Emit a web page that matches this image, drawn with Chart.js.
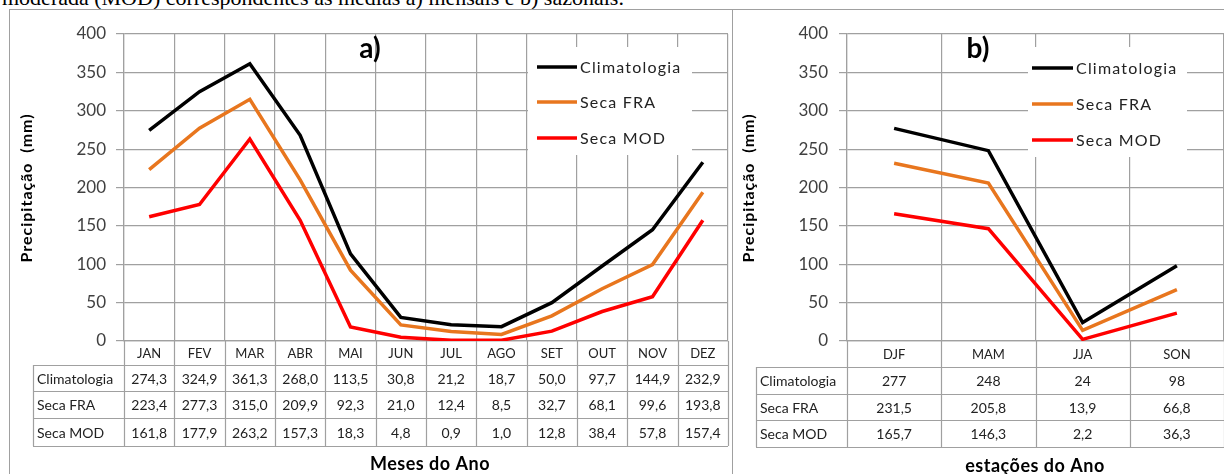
<!DOCTYPE html>
<html>
<head>
<meta charset="utf-8">
<script src="https://cdn.jsdelivr.net/npm/chart.js@4.4.1/dist/chart.umd.min.js"></script>
<style>
  body { margin: 0; background: #fff; width: 1224px; height: 474px; overflow: hidden; position: relative; }
  .legenda-topo { position: absolute; left: 2px; top: -13px; font-family: 'Liberation Serif', serif; font-size: 22px; line-height: 22px; white-space: nowrap; color: #000; }
  .painel { position: absolute; }
  #pa { left: 0; top: 0; width: 733px; height: 474px; }
  #pb { left: 733px; top: 0; width: 491px; height: 474px; }
  .borda-a { position: absolute; left: 9px; top: 9px; width: 722px; height: 480px; border: 1px solid #a0a0a0; }
  .borda-b { position: absolute; left: 732px; top: 9px; width: 500px; height: 480px; border-top: 1px solid #a0a0a0; border-left: 1px solid #a0a0a0; }
</style>
</head>
<body>
<div class="legenda-topo">moderada (MOD) correspondentes às médias a) mensais e b) sazonais.</div>
<div class="borda-a"></div>
<div class="borda-b"></div>
<div class="painel" id="pa"><canvas id="grafA"></canvas></div>
<div class="painel" id="pb"><canvas id="grafB"></canvas></div>
<script>
// dados mensais
const meses = ['JAN', 'FEV', 'MAR', 'ABR', 'MAI', 'JUN', 'JUL', 'AGO', 'SET', 'OUT', 'NOV', 'DEZ'];
const climMensal = [274.3, 324.9, 361.3, 268.0, 113.5, 30.8, 21.2, 18.7, 50.0, 97.7, 144.9, 232.9];
const fraMensal = [223.4, 277.3, 315.0, 209.9, 92.3, 21.0, 12.4, 8.5, 32.7, 68.1, 99.6, 193.8];
const modMensal = [161.8, 177.9, 263.2, 157.3, 18.3, 4.8, 0.9, 1.0, 12.8, 38.4, 57.8, 157.4];

// dados sazonais
const estacoes = ['DJF', 'MAM', 'JJA', 'SON'];
const climSazonal = [277, 248, 24, 98];
const fraSazonal = [231.5, 205.8, 13.9, 66.8];
const modSazonal = [165.7, 146.3, 2.2, 36.3];

const series = ['Climatologia', 'Seca FRA', 'Seca MOD'];
const cores = ['#000000', '#E8761E', '#FF0000'];

const CINZA = '#a0a0a0';

function fmt(v, casas) {
    return v.toFixed(casas).replace('.', ',');
}

// desenha tabela de dados, legenda e textos de cada painel
const extras = {
    id: 'extras',
    beforeDatasetsDraw(chart, args, o) {
        const ctx = chart.ctx;
        ctx.save();
        // caixa da legenda
        ctx.fillStyle = '#fff';
        ctx.fillRect(o.leg.x0, o.leg.y0, o.leg.x1 - o.leg.x0, o.leg.y1 - o.leg.y0);
        ctx.restore();
    },
    afterDraw(chart, args, o) {
        const ctx = chart.ctx;
        const a = chart.chartArea;
        const n = chart.data.labels.length;
        const w = (a.right - a.left) / n;
        const L = o.linhas;
        ctx.save();
        ctx.strokeStyle = CINZA;
        ctx.lineWidth = 1.2;
        ctx.beginPath();
        for (let i = 0; i <= n; i++) {
            const X = Math.round(a.left + i * w) + 0.5;
            ctx.moveTo(X, a.bottom);
            ctx.lineTo(X, L[3]);
        }
        ctx.moveTo(o.esq + 0.5, L[0]);
        ctx.lineTo(o.esq + 0.5, L[3]);
        for (let j = 0; j < 4; j++) {
            ctx.moveTo(o.esq, L[j] + 0.5);
            ctx.lineTo(a.right, L[j] + 0.5);
        }
        ctx.stroke();

        // categorias
        ctx.fillStyle = '#222';
        ctx.textBaseline = 'middle';
        ctx.textAlign = 'center';
        ctx.font = '13px Lato';
        chart.data.labels.forEach(function(lab, i) {
            ctx.fillText(lab, a.left + (i + 0.5) * w, (a.bottom + L[0]) / 2 + 1);
        });
        // linhas da tabela
        chart.data.datasets.forEach(function(ds, r) {
            const yc = (L[r] + L[r + 1]) / 2 + 1;
            ctx.textAlign = 'left';
            ctx.font = '14px Lato';
            ctx.fillText(ds.label, o.esq + 4, yc);
            ctx.textAlign = 'center';
            ds.data.forEach(function(v, i) {
                ctx.fillText(fmt(v, o.casas[r]), a.left + (i + 0.5) * w, yc);
            });
        });

        // legenda
        ctx.letterSpacing = '1.2px';
        ctx.font = '16px Lato';
        ctx.textAlign = 'left';
        chart.data.datasets.forEach(function(ds, r) {
            const y = o.leg.ys[r];
            ctx.strokeStyle = ds.borderColor;
            ctx.lineWidth = 3.5;
            ctx.beginPath();
            ctx.moveTo(o.leg.lx0, y);
            ctx.lineTo(o.leg.lx1, y);
            ctx.stroke();
            ctx.fillStyle = '#222';
            ctx.fillText(ds.label, o.leg.lx1 + 3, y + 1);
        });

        // titulo do painel
        ctx.letterSpacing = '0px';
        ctx.fillStyle = '#000';
        ctx.font = 'bold 28px Lato';
        ctx.textAlign = 'center';
        ctx.textBaseline = 'alphabetic';
        ctx.fillText(o.titulo, o.titX, 58);

        // titulo do eixo x
        ctx.font = 'bold 18px Lato';
        ctx.letterSpacing = '0.5px';
        ctx.fillText(o.eixoX, o.eixoXx, o.eixoXy);

        // titulo do eixo y
        ctx.translate(o.eixoYx, 188);
        ctx.rotate(-Math.PI / 2);
        ctx.font = 'bold 16px Lato';
        ctx.letterSpacing = '1px';
        ctx.textBaseline = 'middle';
        ctx.fillText('Precipitação  (mm)', 0, 0);
        ctx.restore();
    }
};

function montar(id, labels, dados, largY, padTick, padDir, opts) {
    const datasets = dados.map(function(d, i) {
        return {
            label: series[i],
            data: d,
            borderColor: cores[i],
            backgroundColor: cores[i],
            borderWidth: 3.5,
            pointRadius: 0,
            tension: 0,
            fill: false
        };
    });
    return new Chart(document.getElementById(id), {
        type: 'line',
        data: { labels: labels, datasets: datasets },
        plugins: [extras],
        options: {
            responsive: true,
            maintainAspectRatio: false,
            animation: false,
            devicePixelRatio: 1,
            layout: { padding: { top: 34, right: padDir, left: 0, bottom: 0 } },
            plugins: {
                legend: { display: false },
                tooltip: { enabled: false },
                extras: opts
            },
            scales: {
                x: {
                    offset: true,
                    grid: { offset: true, color: CINZA, lineWidth: 1.2, drawTicks: false },
                    border: { color: CINZA, width: 1.2 },
                    ticks: { display: false },
                    afterFit: function(s) { s.height = 133; }
                },
                y: {
                    min: 0,
                    max: 400,
                    ticks: { stepSize: 50, padding: padTick, color: '#404040', font: { family: 'Lato', size: 17 } },
                    grid: { color: CINZA, lineWidth: 1.2, tickLength: 8 },
                    border: { color: CINZA, width: 1.2 },
                    afterFit: function(s) { s.width = largY; }
                }
            }
        }
    });
}

montar('grafA', meses, [climMensal, fraMensal, modMensal], 124, 10, 5, {
    linhas: [365, 391, 418, 446],
    esq: 33,
    casas: [1, 1, 1],
    leg: { x0: 528, y0: 47, x1: 692, y1: 155, lx0: 537, lx1: 577, ys: [67, 102, 138] },
    titulo: 'a)', titX: 370,
    eixoX: 'Meses do Ano', eixoXx: 430, eixoXy: 470,
    eixoYx: 27
});

montar('grafB', estacoes, [climSazonal, fraSazonal, modSazonal], 114, 11, 0, {
    linhas: [367, 394, 420, 447],
    esq: 23,
    casas: [0, 1, 1],
    leg: { x0: 295, y0: 47, x1: 454, y1: 157, lx0: 299, lx1: 340, ys: [68, 104, 140] },
    titulo: 'b)', titX: 245,
    eixoX: 'estações do Ano', eixoXx: 302, eixoXy: 472,
    eixoYx: 16
});
</script>
</body>
</html>
